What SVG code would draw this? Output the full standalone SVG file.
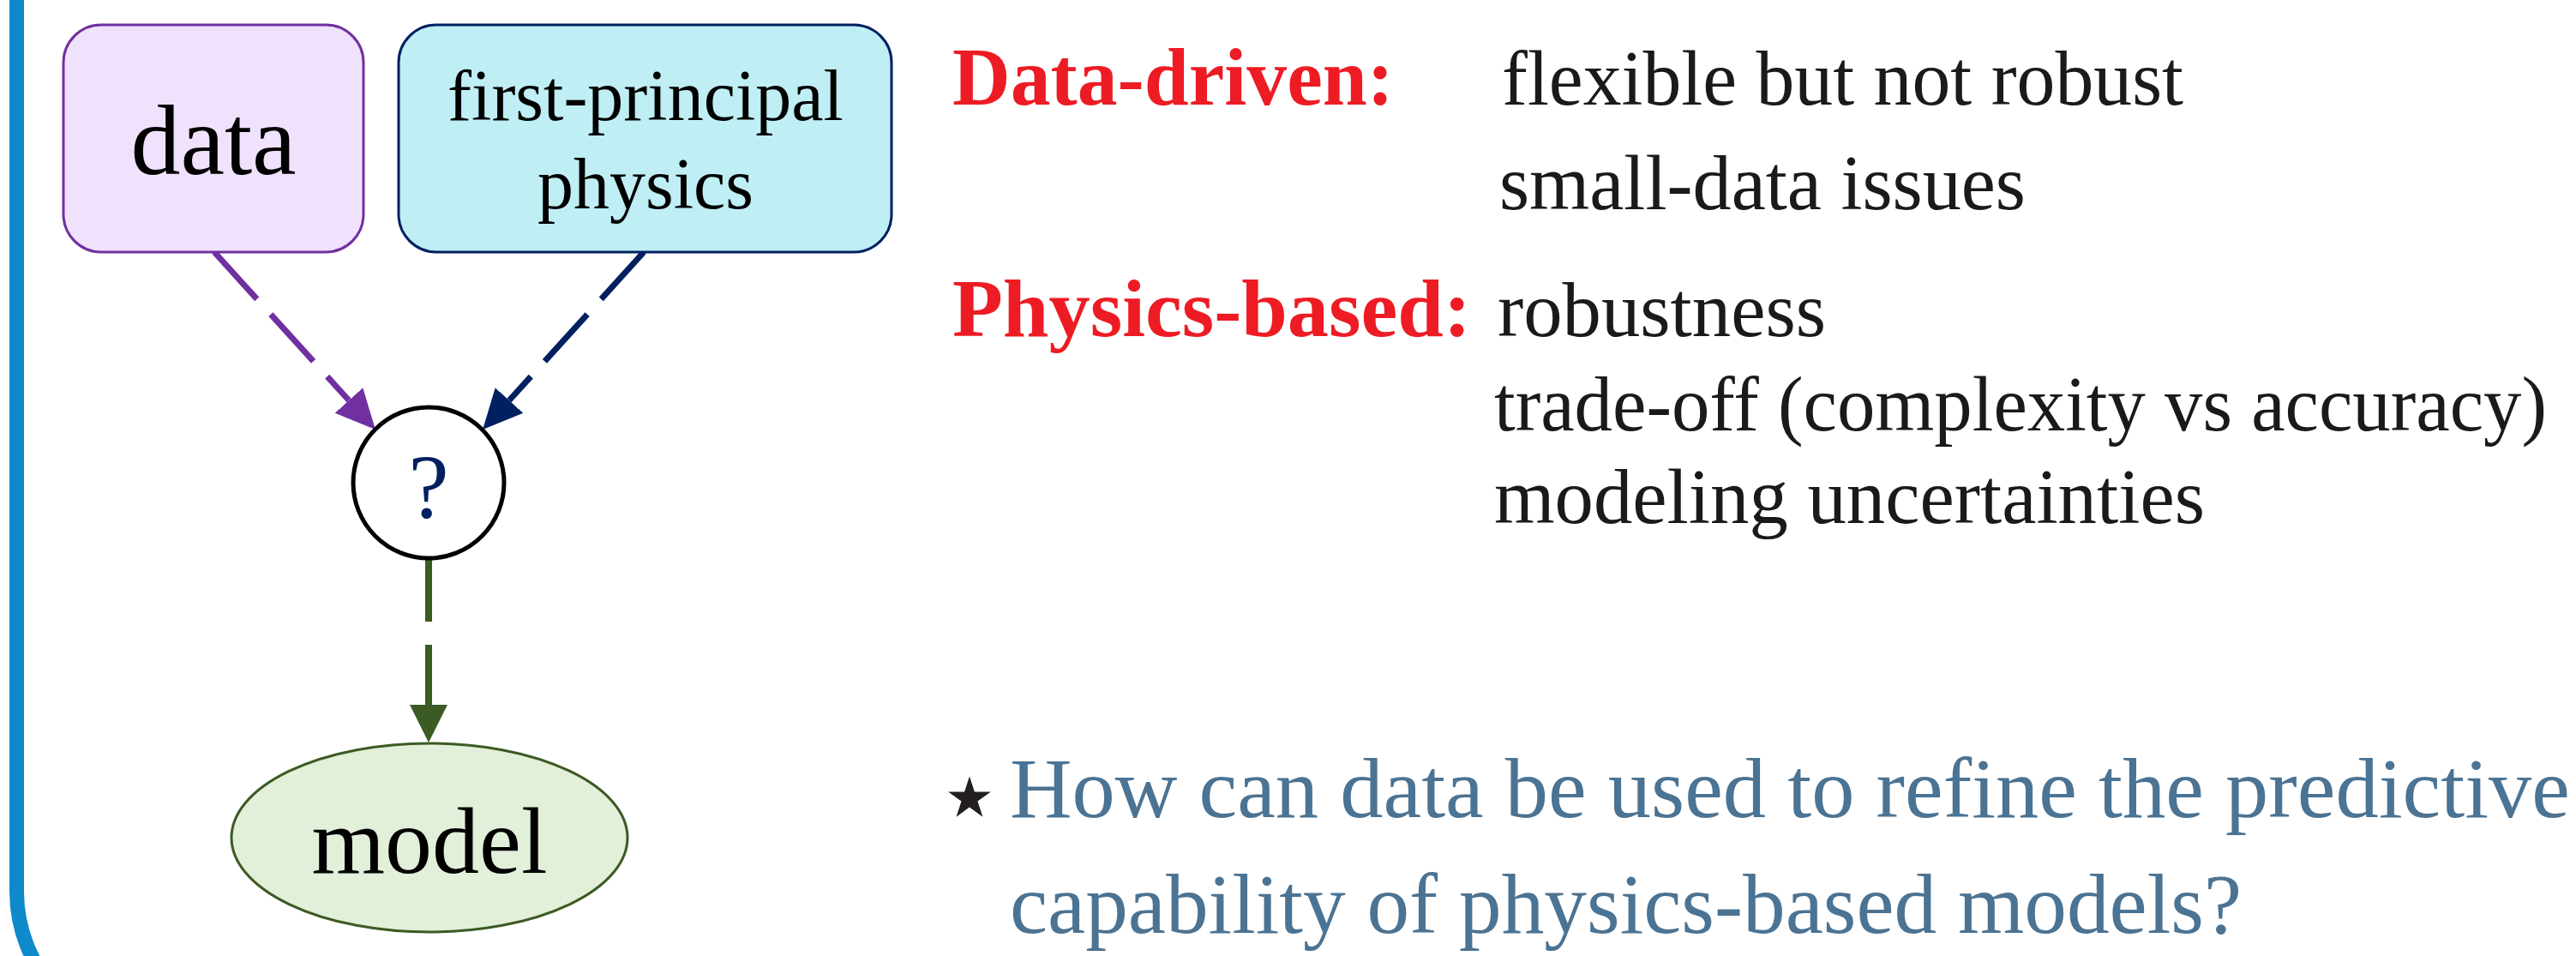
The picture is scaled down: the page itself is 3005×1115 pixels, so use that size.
<svg xmlns="http://www.w3.org/2000/svg" width="3005" height="1115" viewBox="0 0 3005 1115">
<style>
.node-text{font-family:"Liberation Serif","Times New Roman",serif;fill:#000;text-anchor:middle}
.rt{font-family:"Liberation Serif","Times New Roman",serif;font-size:90px;fill:#1a1a1a}
.red{font-family:"Liberation Serif","Times New Roman",serif;font-size:95px;font-weight:bold;fill:#ed1c24}
.q{font-family:"Liberation Serif","Times New Roman",serif;font-size:100px;fill:#4b7393}
</style>
<defs>
<marker id="ah-purple" markerUnits="userSpaceOnUse" markerWidth="50" markerHeight="50" viewBox="0 -25 50 50" refX="0" refY="0" orient="auto"><path d="M0,-22 L46,0 L0,22 z" fill="#7030a0"/></marker>
<marker id="ah-navy" markerUnits="userSpaceOnUse" markerWidth="50" markerHeight="50" viewBox="0 -25 50 50" refX="0" refY="0" orient="auto"><path d="M0,-22 L46,0 L0,22 z" fill="#002060"/></marker>
<marker id="ah-green" markerUnits="userSpaceOnUse" markerWidth="50" markerHeight="50" viewBox="0 -25 50 50" refX="0" refY="0" orient="auto"><path d="M0,-22 L44,0 L0,22 z" fill="#3c5a23"/></marker>
</defs>
<rect width="3005" height="1115" fill="#fff"/>
<path id="frame" d="M19.5,-20 V1040 A170,170 0 0 0 189.5,1210" fill="none" stroke="#0e8acb" stroke-width="17"/>
<g id="connectors" fill="none" stroke-width="7">
<path d="M250,294 L407,467" stroke="#7030a0" stroke-dasharray="74,24" marker-end="url(#ah-purple)"/>
<path d="M751,294 L594,467" stroke="#002060" stroke-dasharray="74,24" marker-end="url(#ah-navy)"/>
<path d="M500,653 L500,822" stroke="#3c5a23" stroke-width="8" stroke-dasharray="72,27" marker-end="url(#ah-green)"/>
</g>
<g id="node-data">
<rect x="74" y="29" width="350" height="265" rx="44" ry="44" fill="#f0e1fc" stroke="#7030a0" stroke-width="3"/>
<text class="node-text" x="249" y="203" font-size="116">data</text>
</g>
<g id="node-physics">
<rect x="465" y="29" width="575" height="265" rx="44" ry="44" fill="#bfeef4" stroke="#002060" stroke-width="3"/>
<text class="node-text" x="753" y="140" font-size="84">first-principal</text>
<text class="node-text" x="753" y="243" font-size="84">physics</text>
</g>
<g id="node-q">
<circle cx="500" cy="563" r="88" fill="#fff" stroke="#000" stroke-width="5"/>
<text class="node-text" x="500" y="604" font-size="106" style="fill:#002060">?</text>
</g>
<g id="node-model">
<ellipse cx="501" cy="977" rx="231" ry="110" fill="#e2efd9" stroke="#3c5a23" stroke-width="3"/>
<text class="node-text" x="501" y="1018" font-size="110">model</text>
</g>
<g id="notes">
<text class="red" x="1111" y="121.5" textLength="515" lengthAdjust="spacingAndGlyphs">Data-driven:</text>
<text class="rt" x="1752" y="121.5" textLength="795" lengthAdjust="spacingAndGlyphs">flexible but not robust</text>
<text class="rt" x="1749" y="244" textLength="614" lengthAdjust="spacingAndGlyphs">small-data issues</text>
<text class="red" x="1111" y="392" textLength="605" lengthAdjust="spacingAndGlyphs">Physics-based:</text>
<text class="rt" x="1747" y="392" textLength="383" lengthAdjust="spacingAndGlyphs">robustness</text>
<text class="rt" x="1743" y="502" textLength="1228" lengthAdjust="spacingAndGlyphs">trade-off (complexity vs accuracy)</text>
<text class="rt" x="1743" y="610" textLength="829" lengthAdjust="spacingAndGlyphs">modeling uncertainties</text>
<text x="1131" y="972" font-family="DejaVu Sans, sans-serif" font-size="130" fill="#231f20" text-anchor="middle">⋆</text>
<text class="q" x="1178" y="953" textLength="1820" lengthAdjust="spacingAndGlyphs">How can data be used to refine the predictive</text>
<text class="q" x="1178" y="1088" textLength="1437" lengthAdjust="spacingAndGlyphs">capability of physics-based models?</text>
</g>
</svg>
